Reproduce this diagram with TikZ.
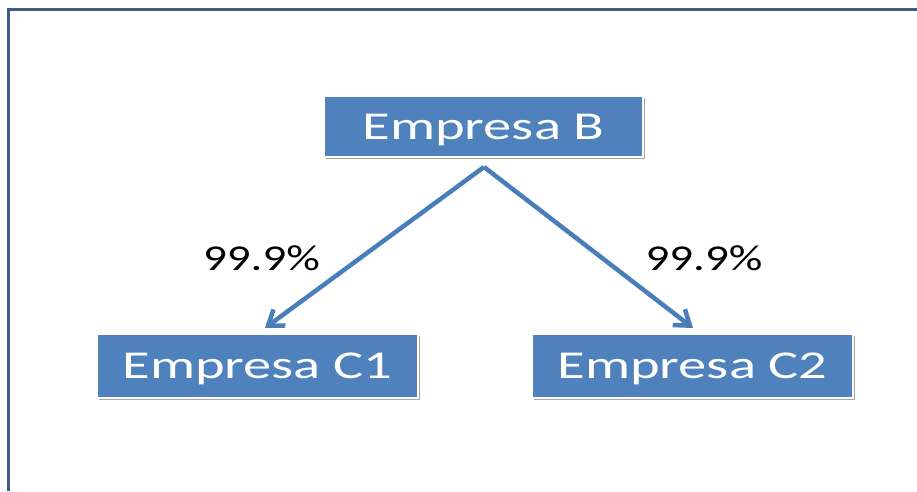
\documentclass[tikz,border=0pt]{standalone}
\usepackage{fontspec}
\setmainfont{Carlito}[FakeStretch=1.43]
\newfontfamily\pctfont{Carlito}[FakeStretch=1.29]
\usepackage{tikz}
\usetikzlibrary{arrows.meta,shadows,calc}
\definecolor{firmblue}{HTML}{4F81BD}
\definecolor{linkblue}{HTML}{4A7EBB}
\definecolor{framblue}{HTML}{3B5E8C}

\begin{document}
\begin{tikzpicture}[x=1pt, y=-1pt,
	firm/.style={fill=firmblue, draw=white, line width=2pt, inner sep=0pt,
		text=white, font=\fontsize{39.5}{40}\selectfont, text height=25pt, text depth=0pt,
		drop shadow={shadow xshift=1.5pt, shadow yshift=-1.5pt, opacity=.35, fill=black}},
	pct/.style={font=\pctfont\fontsize{36.4}{37}\selectfont, text height=23pt, text depth=0pt, inner sep=0pt},
	link/.style={draw=linkblue, line width=4.5pt, -{Straight Barb[length=14pt,width=20pt]}}]
\useasboundingbox (0,0) rectangle (917,491);
\draw[framblue, line width=3pt] (8.5,491) -- (8.5,9.5) -- (917,9.5);

\node[firm, minimum width=319pt, minimum height=61pt] (B) at (483.5,126.5) {Empresa B};
\node[firm, minimum width=321pt, minimum height=64pt] (C1) at (257.5,366) {Empresa C1};
\node[firm, minimum width=321pt, minimum height=64pt] (C2) at (692.5,366) {Empresa C2};

\coordinate (Bfoot) at ($(B.south)+(0.5,9)$);
\coordinate (C1top) at ($(C1.north)+(7.5,-5)$);
\coordinate (C2top) at ($(C2.north)+(0.5,-5)$);

\path
(Bfoot) edge[link] (C1top)
(Bfoot) edge[link] (C2top)
;
\node[pct] (p1) at (261.5,258.5) {99.9\%};
\node[pct] (p2) at (704,258.5) {99.9\%};
\end{tikzpicture}
\end{document}
